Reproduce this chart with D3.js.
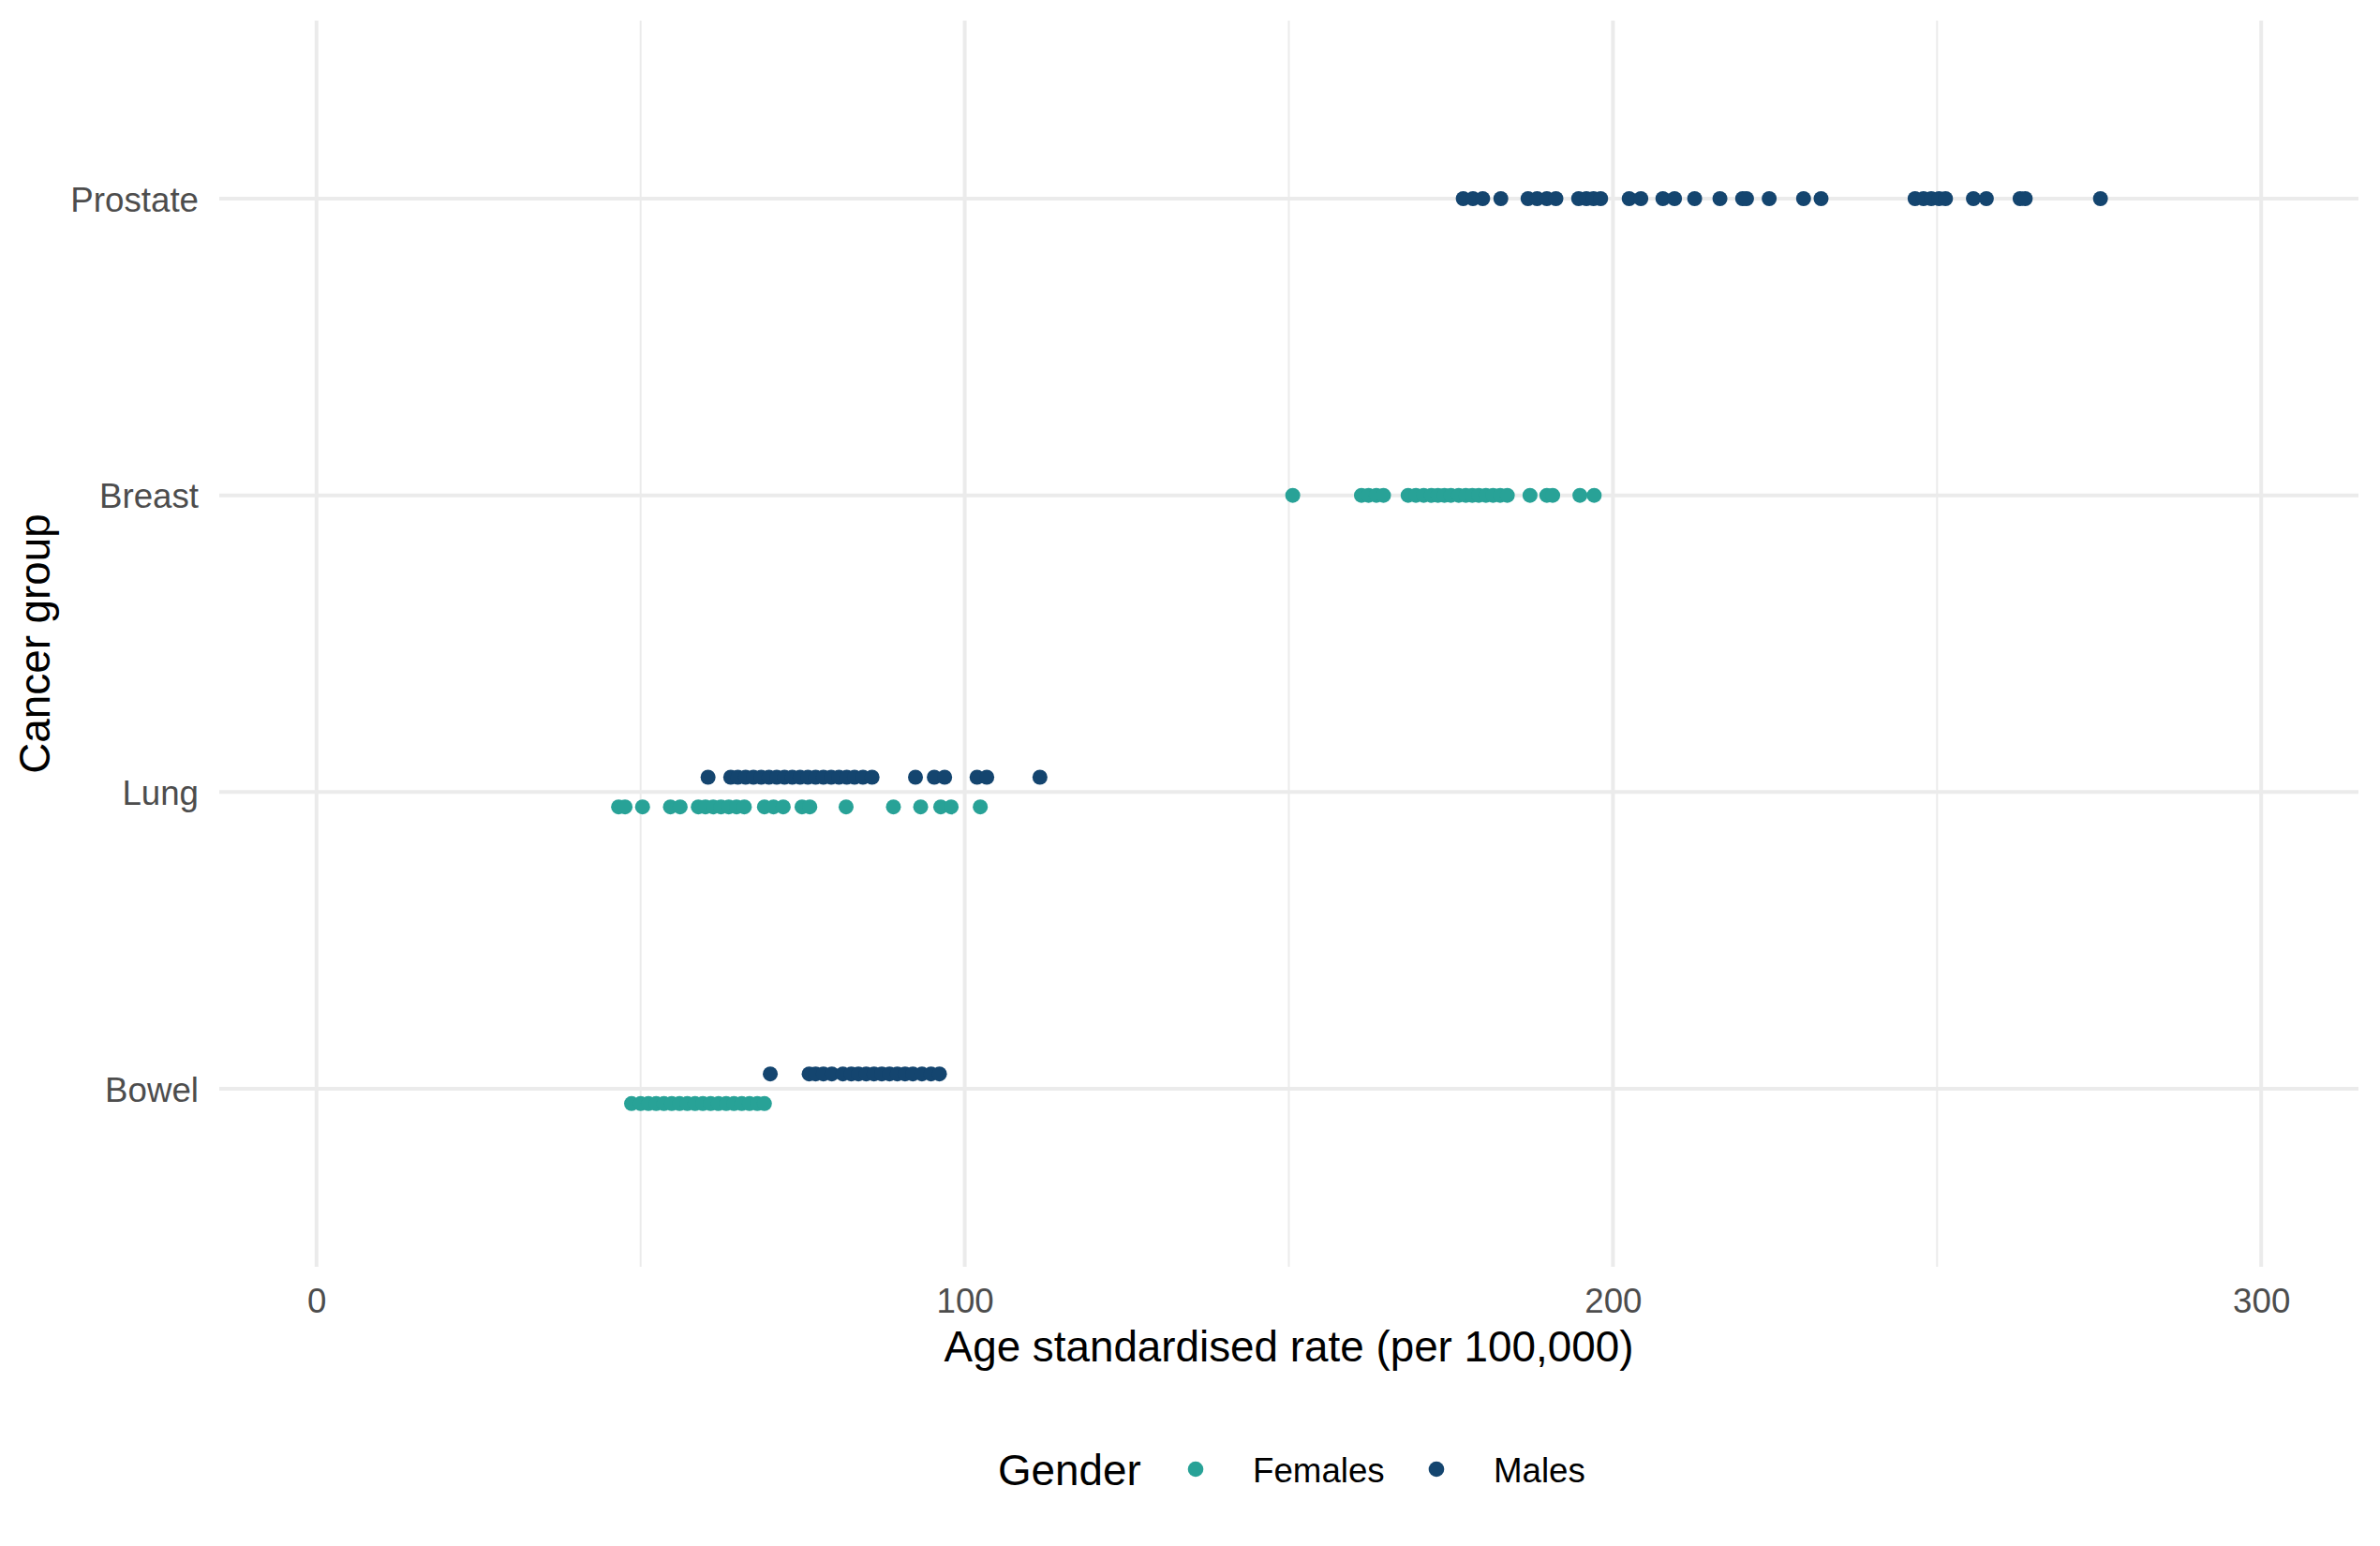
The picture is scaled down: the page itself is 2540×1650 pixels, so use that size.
<!DOCTYPE html>
<html>
<head>
<meta charset="utf-8">
<script src="https://cdn.jsdelivr.net/npm/d3@7"></script>
<style>
  html, body { margin: 0; padding: 0; background: #ffffff; }
  svg { display: block; }
  text { font-family: "Liberation Sans", Arial, sans-serif; }
</style>
</head>
<body>
<script>
// ---------------- data ----------------
const categories = ["Prostate", "Breast", "Lung", "Bowel"];
const genders = ["Females", "Males"];
const xTicks = [0, 100, 200, 300];
const xMinorTicks = [50, 150, 250];

const prostateMales = [176.9, 178.4, 179.9, 182.7, 186.9, 188.3, 189.8, 191.2, 194.7, 195.9, 197.0, 198.1,
  202.5, 204.3, 207.7, 209.5, 212.6, 216.5, 220.0, 220.6, 224.1, 229.4, 232.1,
  246.6, 247.9, 249.1, 250.3, 251.3, 255.6, 257.6, 262.8, 263.6, 275.2];

const breastFemales = [150.6, 161.2, 162.3, 163.5, 164.6,
  168.4, 169.6, 170.8, 172.0, 173.0, 174.0, 175.0, 176.2, 177.3, 178.3, 179.3, 180.4, 181.5, 182.6, 183.7,
  187.2, 189.8, 190.7, 194.9, 197.1];

const lungMales = [60.4, 63.9, 65.0, 66.2, 67.4, 68.6, 69.8, 71.0, 72.2, 73.4, 74.6, 75.8, 77.0, 78.2,
  79.4, 80.6, 81.8, 83.0, 84.3, 85.7, 92.4, 95.3, 96.9, 101.9, 103.4, 111.6];

const lungFemales = [46.6, 47.6, 50.3, 54.6, 56.1, 58.9, 60.0, 61.2, 62.4, 63.6, 64.8, 66.0,
  69.1, 70.5, 72.0, 74.9, 76.1, 81.7, 89.0, 93.2, 96.3, 97.9, 102.4];

const bowelMales = [70.0, 76.0, 77.0, 78.2, 79.5, 81.2, 82.5, 83.6, 84.8, 86.0, 87.2, 88.4, 89.6,
  90.8, 92.0, 93.4, 94.8, 96.1];

const bowelFemales = [48.6, 50.0, 51.2, 52.4, 53.6, 54.8, 56.0, 57.2, 58.4, 59.6, 60.8, 62.0,
  63.2, 64.4, 65.6, 66.8, 68.0, 69.1];

// ---------------- build table ----------------
function rows(cat, gender, vals) { return vals.map(v => ({ cat, gender, v })); }
const points = [].concat(
  rows("Prostate", "Males", prostateMales),
  rows("Breast", "Females", breastFemales),
  rows("Lung", "Males", lungMales),
  rows("Lung", "Females", lungFemales),
  rows("Bowel", "Males", bowelMales),
  rows("Bowel", "Females", bowelFemales)
);

// ---------------- layout ----------------
const W = 2540, H = 1650;
const panel = { left: 234, right: 2517, top: 22, bottom: 1352 };
const colors = { Females: "#28A297", Males: "#14456F" };
const grid = "#EBEBEB";
const tickColor = "#4D4D4D";

const svg = d3.select("body").append("svg").attr("width", W).attr("height", H);

const x = d3.scaleLinear().domain([-15, 315]).range([panel.left, panel.right]);
const y = d3.scalePoint().domain(categories).range([panel.top, panel.bottom]).padding(0.6);
const step = y.step();

// which categories have both genders -> dodge
const groupsPerCat = {};
points.forEach(p => { (groupsPerCat[p.cat] = groupsPerCat[p.cat] || new Set()).add(p.gender); });
function yPos(p) {
  const base = y(p.cat);
  if (groupsPerCat[p.cat].size < 2) return base;
  return base + (p.gender === "Males" ? -0.05 : 0.05) * step;
}

// gridlines
const g = svg.append("g");
g.selectAll("line.minor").data(xMinorTicks).enter().append("line")
  .attr("x1", d => x(d)).attr("x2", d => x(d))
  .attr("y1", panel.top).attr("y2", panel.bottom)
  .attr("stroke", grid).attr("stroke-width", 2);
g.selectAll("line.majx").data(xTicks).enter().append("line")
  .attr("x1", d => x(d)).attr("x2", d => x(d))
  .attr("y1", panel.top).attr("y2", panel.bottom)
  .attr("stroke", grid).attr("stroke-width", 4);
g.selectAll("line.majy").data(categories).enter().append("line")
  .attr("x1", panel.left).attr("x2", panel.right)
  .attr("y1", d => y(d)).attr("y2", d => y(d))
  .attr("stroke", grid).attr("stroke-width", 4);

// x axis labels
const xAxis = d3.axisBottom(x).tickValues(xTicks).tickSize(0).tickPadding(0).tickFormat(d3.format("d"));
const xa = svg.append("g").attr("transform", `translate(0,${panel.bottom})`).call(xAxis);
xa.select(".domain").remove();
xa.selectAll("text").attr("fill", tickColor).attr("font-size", 36.7)
  .attr("dy", null).attr("y", 49).attr("font-family", "Liberation Sans, Arial, sans-serif");

// y axis labels
const yAxis = d3.axisLeft(y).tickSize(0).tickPadding(0);
const ya = svg.append("g").attr("transform", `translate(212,0)`).call(yAxis);
ya.select(".domain").remove();
ya.selectAll("text").attr("fill", tickColor).attr("font-size", 36.7)
  .attr("dy", "0.36em").attr("x", 0).attr("font-family", "Liberation Sans, Arial, sans-serif");

// points
svg.append("g").selectAll("circle").data(points).enter().append("circle")
  .attr("cx", d => x(d.v)).attr("cy", d => yPos(d)).attr("r", 8)
  .attr("fill", d => colors[d.gender]);

// axis titles
svg.append("text").attr("x", (panel.left + panel.right) / 2).attr("y", 1453)
  .attr("text-anchor", "middle").attr("font-size", 45.8).attr("fill", "#000")
  .text("Age standardised rate (per 100,000)");
svg.append("text").attr("transform", `translate(53,${(panel.top + panel.bottom) / 2}) rotate(-90)`)
  .attr("text-anchor", "middle").attr("font-size", 45.8).attr("fill", "#000")
  .text("Cancer group");

// legend
const leg = svg.append("g");
leg.append("text").attr("x", 1065).attr("y", 1585).attr("font-size", 45.8).attr("fill", "#000").text("Gender");
const legItems = [{ g: "Females", cx: 1276, tx: 1337 }, { g: "Males", cx: 1533, tx: 1594 }];
leg.selectAll("circle").data(legItems).enter().append("circle")
  .attr("cx", d => d.cx).attr("cy", 1568).attr("r", 8.3).attr("fill", d => colors[d.g]);
leg.selectAll("text.item").data(legItems).enter().append("text").attr("class", "item")
  .attr("x", d => d.tx).attr("y", 1582).attr("font-size", 36.7).attr("fill", "#000")
  .text(d => d.g);
</script>
</body>
</html>
